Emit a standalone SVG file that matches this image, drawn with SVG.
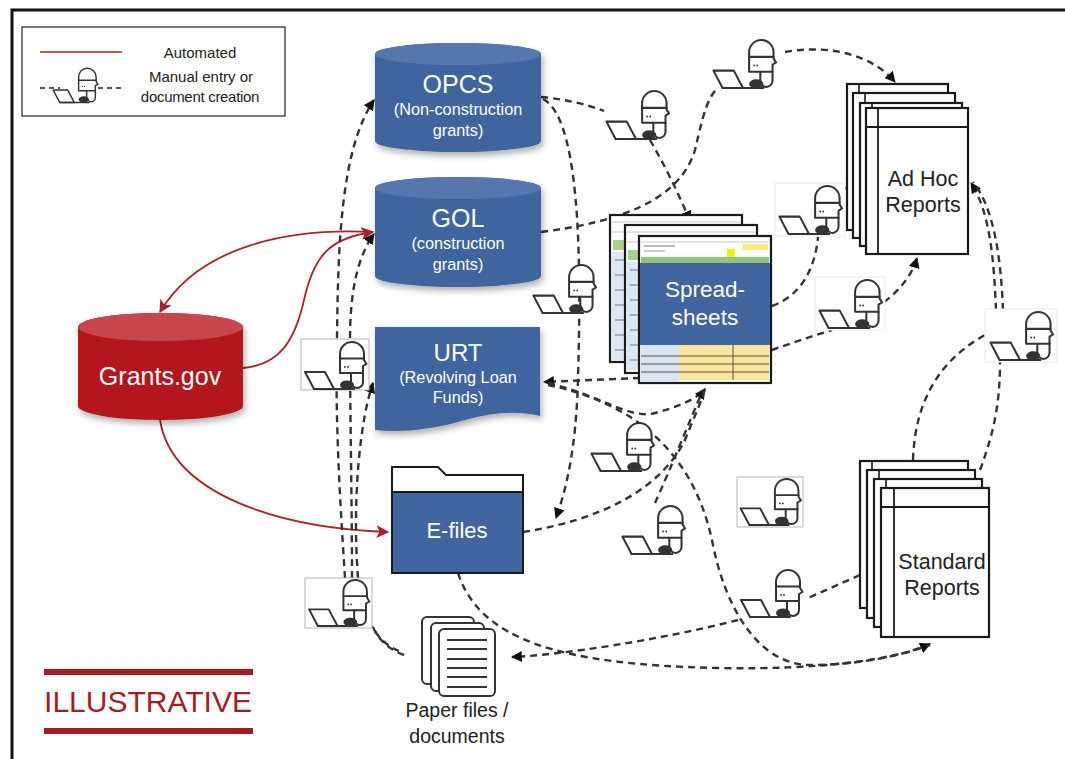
<svg xmlns="http://www.w3.org/2000/svg" xmlns:xlink="http://www.w3.org/1999/xlink" width="1065" height="759" viewBox="0 0 1065 759">
  <style>
    .t { font-family: "Liberation Sans", Arial, sans-serif; text-anchor: middle; }
    .w { fill: #ffffff; }
    .k { fill: #222222; }
    .blue { fill: #41659e; }
    .blueTop { fill: #5677ad; }
    .red { fill: #b3161f; }
    .redTop { fill: #c8454b; }
    .dash { fill: none; stroke: #333333; stroke-width: 2.4; stroke-dasharray: 7 5; }
    .auto { fill: none; stroke: #a8232b; stroke-width: 1.8; }
    .page { fill: #ffffff; stroke: #1a1a1a; stroke-width: 2.2; }
    .grid { stroke: #b9b9b9; stroke-width: 0.8; }
    .txt { stroke: #8a8a8a; stroke-width: 1.2; }
    .ibox { fill: #ffffff; stroke: #b5b5b5; stroke-width: 1; }
    .iboxFaint { fill: #ffffff; stroke: #ececec; stroke-width: 1; }
  </style>
  <defs>
    <filter id="soft" x="-20%" y="-20%" width="140%" height="150%">
      <feDropShadow dx="2" dy="4" stdDeviation="3" flood-color="#000000" flood-opacity="0.3"/>
    </filter>
    <marker id="arrD" viewBox="0 0 10 10" refX="9" refY="5" markerWidth="11" markerHeight="11" orient="auto" markerUnits="userSpaceOnUse">
      <path d="M0,0 L10,5 L0,10 Z" fill="#111111"/>
    </marker>
    <marker id="arrR" viewBox="0 0 10 10" refX="9" refY="5" markerWidth="13" markerHeight="13" orient="auto" markerUnits="userSpaceOnUse">
      <path d="M0,0 L10,5 L0,10 L2.5,5 Z" fill="#a8232b"/>
    </marker>
    <!-- person typing at a laptop -->
    <symbol id="typist" viewBox="0 0 66 52">
      <g fill="#ffffff" stroke="#333333" stroke-width="2" stroke-linejoin="round" stroke-linecap="round">
        <path d="M38,34 V15 A12,12 0 0 1 62,15 V21 L64.5,25 L61,27 V34 Z"/>
        <path d="M38,19.5 H62" fill="none"/>
        <path d="M49,34 V43 A6,6 0 0 0 61,43 V34" fill="none"/>
        <polygon points="3,33 23,33 32,50 12,50"/>
        <path d="M12,50 H52" fill="none"/>
      </g>
      <ellipse cx="45" cy="46" rx="7" ry="4.5" fill="#333333"/>
      <circle cx="43" cy="28" r="0.9" fill="#333333"/>
      <circle cx="46" cy="28" r="0.9" fill="#333333"/>
    </symbol>
    <!-- faint rows of a worksheet, reused on the back sheets -->
    <g id="rows">
      <line class="grid" x1="2" y1="7" x2="130" y2="7"/>
      <line class="grid" x1="2" y1="17" x2="130" y2="17"/>
      <rect x="3" y="25" width="30" height="10" fill="#a9d18e"/>
      <rect x="2" y="37" width="28" height="108" fill="#dde7f3"/>
      <line class="txt" x1="5" y1="45" x2="25" y2="45"/>
      <line class="txt" x1="5" y1="60" x2="22" y2="60"/>
      <line class="txt" x1="5" y1="75" x2="26" y2="75"/>
      <line class="txt" x1="5" y1="90" x2="20" y2="90"/>
      <line class="txt" x1="5" y1="105" x2="25" y2="105"/>
      <line class="txt" x1="5" y1="120" x2="22" y2="120"/>
      <line class="txt" x1="5" y1="135" x2="26" y2="135"/>
    </g>
  </defs>

  <rect width="1065" height="759" fill="#ffffff"/>
  <!-- page frame -->
  <rect x="12" y="10" width="1075" height="780" fill="none" stroke="#111111" stroke-width="3"/>

  <!-- legend -->
  <g id="legend">
    <rect x="22" y="27" width="263" height="89" fill="#ffffff" stroke="#222222" stroke-width="1.2"/>
    <line x1="40" y1="52" x2="122" y2="52" stroke="#a8232b" stroke-width="1.5"/>
    <text class="t k" x="200" y="58" font-size="15">Automated</text>
    <line x1="40" y1="88" x2="60" y2="88" stroke="#222" stroke-width="1.4" stroke-dasharray="5 4"/>
    <line x1="98" y1="88" x2="122" y2="88" stroke="#222" stroke-width="1.4" stroke-dasharray="5 4"/>
    <use href="#typist" x="51" y="66" width="48" height="38"/>
    <text class="t k" x="201" y="82" font-size="15">Manual entry or</text>
    <text class="t k" x="200" y="102" font-size="15" letter-spacing="-0.3">document creation</text>
  </g>

  <!-- ILLUSTRATIVE stamp -->
  <g id="stamp">
    <rect x="44" y="669" width="209" height="6" fill="#a31d26"/>
    <rect x="44" y="728" width="209" height="6" fill="#a31d26"/>
    <text x="148" y="712" font-family="Liberation Sans, Arial, sans-serif" font-size="30" text-anchor="middle" fill="#a31d26">ILLUSTRATIVE</text>
  </g>

  <!-- connectors -->
  <g id="connectors">
    <!-- automated flows -->
    <path class="auto" d="M372,232 C290,228 200,245 160,312" marker-end="url(#arrR)"/>
    <path class="auto" d="M243,368 C280,365 295,340 304,300 C314,255 330,238 373,232" marker-end="url(#arrR)"/>
    <path class="auto" d="M160,420 C172,495 280,528 388,532" marker-end="url(#arrR)"/>

    <!-- manual flows -->
    <path class="dash" d="M541,97 Q575,100 604,111"/>
    <path class="dash" d="M650,140 Q672,178 690,221" marker-end="url(#arrD)"/>
    <path class="dash" d="M543,99 C585,120 580,300 578,380 C576,450 566,490 556,518" marker-end="url(#arrD)"/>
    <path class="dash" d="M541,232 C620,222 680,200 695,150 C703,115 708,96 718,88"/>
    <path class="dash" d="M785,52 C830,44 872,55 895,82" marker-end="url(#arrD)"/>
    <path class="dash" d="M772,306 C800,296 815,270 818,237"/>
    <path class="dash" d="M843,190 Q852,183 862,182" marker-end="url(#arrD)"/>
    <path class="dash" d="M772,350 Q800,340 832,330"/>
    <path class="dash" d="M884,302 C900,290 912,275 917,258" marker-end="url(#arrD)"/>
    <path class="dash" d="M913,460 C915,400 940,360 985,335"/>
    <path class="dash" d="M996,310 C994,260 990,212 971,183" marker-end="url(#arrD)"/>
    <path class="dash" d="M980,470 C995,430 1000,400 1000,362"/>
    <path class="dash" d="M1003,310 C1001,258 994,208 973,182"/>
    <path class="dash" d="M640,378 L544,382" marker-end="url(#arrD)"/>
    <path class="dash" d="M548,383 C600,395 630,420 655,413 C685,405 700,396 705,389" marker-end="url(#arrD)"/>
    <path class="dash" d="M548,385 C620,400 690,440 712,540 C725,610 760,665 810,665 C860,665 905,655 930,644" marker-end="url(#arrD)"/>
    <path class="dash" d="M458,573 C480,640 560,665 720,668 C820,670 890,660 930,645"/>
    <path class="dash" d="M860,575 L808,598"/>
    <path class="dash" d="M738,620 C660,640 560,655 512,657" marker-end="url(#arrD)"/>
    <path class="dash" d="M523,532 C600,520 660,490 685,440 C695,415 702,400 705,389"/>
    <path class="dash" d="M655,503 C670,470 690,420 703,390"/>
    <path class="dash" d="M345,578 C340,500 335,420 337,340 C338,250 340,150 374,100" marker-end="url(#arrD)"/>
    <path class="dash" d="M352,578 C352,500 350,420 350,340 C350,300 355,260 374,234" marker-end="url(#arrD)"/>
    <path class="dash" d="M358,578 C352,500 360,420 373,383" marker-end="url(#arrD)"/>
    <path class="dash" d="M404,655 C390,650 378,640 372,625"/>
    <path class="dash" d="M399,651 C386,646 377,636 369,622"/>
  </g>

  <!-- Grants.gov -->
  <g id="grants">
    <g filter="url(#soft)">
      <path class="red" d="M78,327 A82.5,14 0 0 1 243,327 V406 A82.5,14 0 0 1 78,406 Z"/>
      <ellipse class="redTop" cx="160.5" cy="327" rx="82.5" ry="14"/>
    </g>
    <text class="t w" x="160" y="385" font-size="25">Grants.gov</text>
  </g>

  <!-- OPCS -->
  <g id="opcs">
    <g filter="url(#soft)">
      <path class="blue" d="M375,54 A83,11 0 0 1 541,54 V141 A83,11 0 0 1 375,141 Z"/>
      <ellipse class="blueTop" cx="458" cy="54" rx="83" ry="11"/>
    </g>
    <text class="t w" x="458" y="93" font-size="25">OPCS</text>
    <text class="t w" x="458" y="115" font-size="16.3">(Non-construction</text>
    <text class="t w" x="458" y="136" font-size="16.3">grants)</text>
  </g>

  <!-- GOL -->
  <g id="gol">
    <g filter="url(#soft)">
      <path class="blue" d="M375,188 A83,11 0 0 1 541,188 V276 A83,11 0 0 1 375,276 Z"/>
      <ellipse class="blueTop" cx="458" cy="188" rx="83" ry="11"/>
    </g>
    <text class="t w" x="458" y="227" font-size="25">GOL</text>
    <text class="t w" x="458" y="249" font-size="16.3">(construction</text>
    <text class="t w" x="458" y="270" font-size="16.3">grants)</text>
  </g>

  <!-- URT -->
  <g id="urt">
    <path class="blue" filter="url(#soft)" d="M375,327 H540 V416 C515,410 490,413 465,420 C435,429 405,433 375,430 Z"/>
    <text class="t w" x="458" y="361" font-size="24">URT</text>
    <text class="t w" x="458" y="383" font-size="16.3">(Revolving Loan</text>
    <text class="t w" x="458" y="403" font-size="16.3">Funds)</text>
  </g>

  <!-- E-files folder -->
  <g id="efiles">
    <path d="M392,492 V467 H438 L446,475 H523 V492 Z" fill="#ffffff" stroke="#1a1a1a" stroke-width="2"/>
    <rect x="392" y="492" width="131" height="81" fill="#41659e" stroke="#1a1a1a" stroke-width="2"/>
    <text class="t w" x="457" y="538" font-size="22">E-files</text>
  </g>

  <!-- Spreadsheets -->
  <g id="spreadsheets">
    <rect class="page" x="610" y="215" width="132" height="147"/>
    <use href="#rows" x="610" y="215"/>
    <rect class="page" x="625" y="225" width="132" height="148"/>
    <use href="#rows" x="625" y="225"/>
    <g>
      <rect class="page" x="639" y="236" width="132" height="147"/>
      <line class="grid" x1="641" y1="242" x2="769" y2="242"/>
      <line x1="644" y1="246" x2="675" y2="246" stroke="#777" stroke-width="1"/>
      <line x1="644" y1="251" x2="665" y2="251" stroke="#999" stroke-width="1"/>
      <rect x="743" y="244" width="25" height="6" fill="#f3ec7a"/>
      <rect x="727" y="249" width="8" height="8" fill="#f2ef00"/>
      <rect x="641" y="257" width="128" height="6" fill="#93c47d"/>
      <rect x="640" y="263" width="130" height="82" fill="#41659e"/>
      <rect x="641" y="345" width="38" height="37" fill="#dbe5f1"/>
      <rect x="679" y="345" width="90" height="35" fill="#fbe59a"/>
      <line x1="641" y1="356" x2="769" y2="356" stroke="#555" stroke-width="1"/>
      <line x1="641" y1="364" x2="769" y2="364" stroke="#555" stroke-width="1"/>
      <line x1="641" y1="372" x2="769" y2="372" stroke="#555" stroke-width="1"/>
      <line x1="733" y1="345" x2="733" y2="380" stroke="#555" stroke-width="1"/>
      <text class="t w" x="705" y="297" font-size="22.5">Spread-</text>
      <text class="t w" x="705" y="325" font-size="22.5">sheets</text>
    </g>
  </g>

  <!-- Ad Hoc Reports -->
  <g id="adhoc">
    <rect class="page" x="847" y="84" width="101" height="146"/>
    <line x1="859" y1="84" x2="859" y2="230" stroke="#1a1a1a" stroke-width="1.6"/>
    <rect class="page" x="853" y="93" width="102" height="145"/>
    <line x1="865" y1="93" x2="865" y2="238" stroke="#1a1a1a" stroke-width="1.6"/>
    <rect class="page" x="860" y="103" width="102" height="143"/>
    <line x1="872" y1="103" x2="872" y2="246" stroke="#1a1a1a" stroke-width="1.6"/>
    <rect class="page" x="866" y="108" width="102" height="146"/>
    <line x1="878" y1="108" x2="878" y2="254" stroke="#1a1a1a" stroke-width="1.8"/>
    <line x1="866" y1="127" x2="968" y2="127" stroke="#1a1a1a" stroke-width="1.8"/>
    <text class="t k" x="923" y="186" font-size="21.5">Ad Hoc</text>
    <text class="t k" x="923" y="212" font-size="21.5">Reports</text>
  </g>

  <!-- Standard Reports -->
  <g id="standard">
    <rect class="page" x="860" y="461" width="108" height="147"/>
    <line x1="872" y1="461" x2="872" y2="608" stroke="#1a1a1a" stroke-width="1.6"/>
    <rect class="page" x="867" y="470" width="108" height="148"/>
    <line x1="879" y1="470" x2="879" y2="618" stroke="#1a1a1a" stroke-width="1.6"/>
    <rect class="page" x="874" y="479" width="108" height="148"/>
    <line x1="886" y1="479" x2="886" y2="627" stroke="#1a1a1a" stroke-width="1.6"/>
    <rect class="page" x="881" y="488" width="108" height="149"/>
    <line x1="894" y1="488" x2="894" y2="637" stroke="#1a1a1a" stroke-width="1.8"/>
    <line x1="881" y1="507" x2="989" y2="507" stroke="#1a1a1a" stroke-width="1.8"/>
    <text class="t k" x="942" y="569" font-size="21.5">Standard</text>
    <text class="t k" x="942" y="595" font-size="21.5">Reports</text>
  </g>

  <!-- Paper files / documents -->
  <g id="paper">
    <g fill="#ffffff" stroke="#333333" stroke-width="2">
      <rect x="422" y="617" width="52" height="67" rx="5"/>
      <rect x="431" y="623" width="53" height="68" rx="5"/>
      <rect x="439" y="629" width="56" height="67" rx="5"/>
    </g>
    <g stroke="#333333" stroke-width="2">
      <line x1="447" y1="640" x2="487" y2="640"/>
      <line x1="447" y1="649" x2="487" y2="649"/>
      <line x1="447" y1="659" x2="487" y2="659"/>
      <line x1="447" y1="668" x2="487" y2="668"/>
      <line x1="447" y1="677" x2="487" y2="677"/>
      <line x1="447" y1="687" x2="487" y2="687"/>
    </g>
    <text class="t k" x="457" y="717" font-size="19.5">Paper files /</text>
    <text class="t k" x="457" y="743" font-size="19.5">documents</text>
  </g>

  <!-- manual entry points -->
  <g id="typists">
    <g id="typist-2"><use href="#typist" x="710" y="37" width="68" height="53"/></g>
    <g id="typist-3"><use href="#typist" x="603" y="88" width="68" height="53"/></g>
    <g id="typist-4"><rect class="iboxFaint" x="775" y="183" width="70" height="53"/><use href="#typist" x="776" y="183" width="68" height="53"/></g>
    <g id="typist-5"><use href="#typist" x="530" y="262" width="68" height="53"/></g>
    <g id="typist-6"><rect class="iboxFaint" x="815" y="277" width="70" height="53"/><use href="#typist" x="816" y="277" width="68" height="53"/></g>
    <g id="typist-7"><rect class="iboxFaint" x="985" y="309" width="72" height="53"/><use href="#typist" x="987" y="309" width="68" height="53"/></g>
    <g id="typist-8"><rect class="ibox" x="301" y="339" width="68" height="51"/><use href="#typist" x="301" y="339" width="68" height="52"/></g>
    <g id="typist-9"><use href="#typist" x="588" y="420" width="68" height="53"/></g>
    <g id="typist-10"><rect class="ibox" x="737" y="477" width="66" height="50"/><use href="#typist" x="737" y="476" width="66" height="51"/></g>
    <g id="typist-11"><use href="#typist" x="619" y="503" width="68" height="53"/></g>
    <g id="typist-12"><use href="#typist" x="737" y="567" width="68" height="52"/></g>
    <g id="typist-13"><rect class="ibox" x="305" y="578" width="67" height="50"/><use href="#typist" x="305" y="577" width="67" height="51"/></g>
  </g>
</svg>
